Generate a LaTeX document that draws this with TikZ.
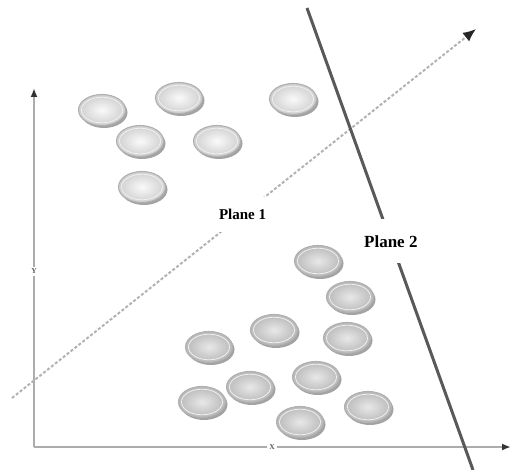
\documentclass[tikz,border=0pt]{standalone}
\usepackage{fontspec}
\setmainfont{Liberation Serif}
\usetikzlibrary{arrows.meta,shapes.geometric,shadows}

\tikzset{
  axisline/.style={draw=gray!65, line width=2pt,
    -{Latex[length=9pt,width=7pt,color=black!80]}},
  dashline/.style={draw=gray!60, line width=2pt, dash pattern=on 3pt off 2pt,
    -{Latex[length=13pt,width=11pt,color=black!85]}},
  planeline/.style={draw=black!65, line width=3pt},
  planelabel/.style={fill=white, font=\bfseries, inner xsep=1pt},
  axislabel/.style={fill=white, font=\fontsize{7.5}{7.5}\selectfont\bfseries, inner sep=2pt, text=gray!70!black},
  dot/.style={ellipse, minimum width=47pt, minimum height=31pt, inner sep=0pt,
    draw=gray!62, line width=1.1pt,
    drop shadow={shadow xshift=2pt, shadow yshift=-2.5pt, fill=gray!85, opacity=0.85},
    path picture={\draw[gray!12, line width=0.8pt]
      (path picture bounding box.center) ellipse [x radius=20.5pt, y radius=12.8pt];}},
  lightdot/.style={dot, shade, shading=radial, inner color=gray!4, outer color=gray!38},
  darkdot/.style={dot, shade, shading=radial, inner color=gray!18, outer color=gray!55},
}

\begin{document}
\begin{tikzpicture}[x=1pt, y=-1pt]
\useasboundingbox (0,0) rectangle (514,470);

% axes
\coordinate (origin) at (34,447);
\coordinate (ytip) at (34,88);
\coordinate (xtip) at (511,447);
\draw[axisline] (origin) -- (ytip) node[axislabel, pos=0.49] (ylab) {Y};
\draw[axisline] (origin) -- (xtip) node[axislabel, pos=0.499] (xlab) {X};

% first separating plane (dashed)
\coordinate (p1start) at (12,398);
\coordinate (p1end) at (476,29);
\draw[dashline] (p1start) -- (p1end)
  node[planelabel, pos=0.497, inner ysep=12pt, font=\fontsize{15}{15}\selectfont\bfseries] (plane1) {Plane 1};

% upper cluster
\node[lightdot] (u1) at (102,110) {};
\node[lightdot] (u2) at (179,98) {};
\node[lightdot] (u3) at (140,141) {};
\node[lightdot] (u4) at (217,141) {};
\node[lightdot] (u5) at (293,99) {};
\node[lightdot] (u6) at (142,187) {};

% lower cluster
\node[darkdot] (l1) at (318,261) {};
\node[darkdot] (l2) at (350,297) {};
\node[darkdot] (l3) at (274,330) {};
\node[darkdot] (l4) at (347,338) {};
\node[darkdot] (l5) at (209,347) {};
\node[darkdot] (l6) at (316,377) {};
\node[darkdot] (l7) at (250,387) {};
\node[darkdot] (l8) at (202,402) {};
\node[darkdot] (l9) at (368,407) {};
\node[darkdot] (l10) at (300,422) {};

% second separating plane (solid)
\coordinate (p2start) at (307,8);
\coordinate (p2end) at (473,470);
\draw[planeline] (p2start) -- (p2end)
  node[planelabel, pos=0.505, inner ysep=16pt, font=\fontsize{17}{17}\selectfont\bfseries] (plane2) {Plane 2};
\end{tikzpicture}
\end{document}
